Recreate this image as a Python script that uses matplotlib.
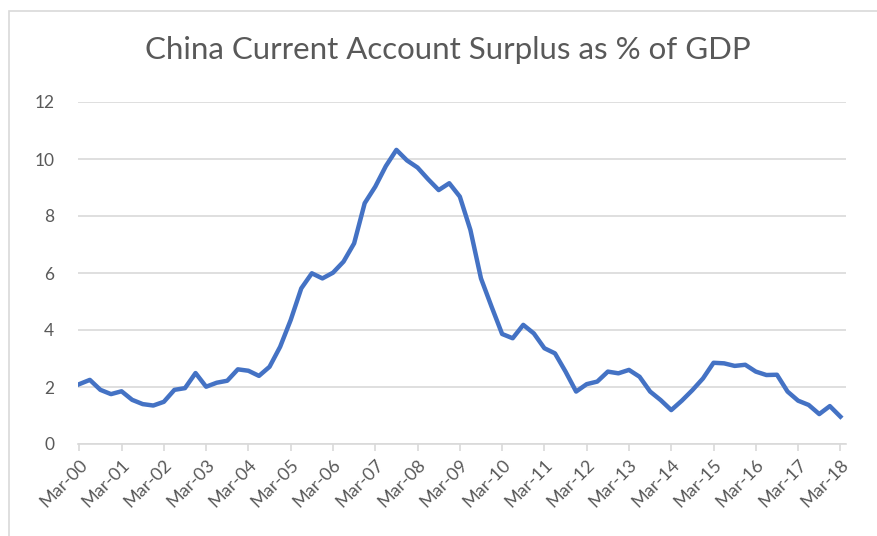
import matplotlib.pyplot as plt
from matplotlib.patches import Rectangle

# quarterly current account surplus, % of GDP, Mar-00 .. Mar-18
surplus = [
    2.10, 2.25, 1.90, 1.75, 1.85, 1.55, 1.40, 1.35,
    1.48, 1.90, 1.96, 2.49, 2.01, 2.15, 2.22, 2.62,
    2.57, 2.39, 2.71, 3.41, 4.35, 5.46, 5.99, 5.81,
    6.01, 6.40, 7.04, 8.45, 9.03, 9.75, 10.32, 9.95,
    9.70, 9.29, 8.91, 9.15, 8.68, 7.51, 5.81, 4.82,
    3.86, 3.71, 4.18, 3.88, 3.36, 3.18, 2.54, 1.84,
    2.10, 2.19, 2.54, 2.48, 2.60, 2.36, 1.84, 1.54,
    1.19, 1.52, 1.89, 2.30, 2.85, 2.83, 2.74, 2.78,
    2.54, 2.42, 2.43, 1.84, 1.52, 1.37, 1.05, 1.33,
    0.96,
]
years = ['00', '01', '02', '03', '04', '05', '06', '07', '08', '09',
         '10', '11', '12', '13', '14', '15', '16', '17', '18']
tick_labels = ['Mar-' + y for y in years]
y_ticks = [0, 2, 4, 6, 8, 10, 12]

GREY = '#595959'
LIGHT = '#d9d9d9'

plt.rcParams['font.family'] = ['Lato', 'DejaVu Sans']

W, H = 877, 536
fig = plt.figure(figsize=(W / 100, H / 100), dpi=100)

# thin chart border like the Excel chart area
fig.patches.append(Rectangle((9 / W, -0.05), 1.0, (H - 11) / H + 0.05,
                             transform=fig.transFigure, fill=False,
                             edgecolor=LIGHT, linewidth=1.2))

ax = fig.add_axes([78 / W, (H - 444) / H, 768 / W, 342 / H])

x = list(range(len(surplus)))
ax.plot(x, surplus, color='#4472C4', linewidth=3.2, solid_joinstyle='round',
        zorder=3)

ax.set_xlim(-0.12, 72.53)
ax.set_ylim(0, 12)

ax.set_yticks(y_ticks)
ax.set_yticklabels([str(v) for v in y_ticks])
ax.set_xticks(list(range(0, len(surplus), 4)))
ax.set_xticklabels(tick_labels, rotation=45, ha='right', va='top',
                   rotation_mode='anchor')

ax.grid(axis='y', color=LIGHT, linewidth=1.2, zorder=0)
for side in ('top', 'right', 'left'):
    ax.spines[side].set_visible(False)
ax.spines['bottom'].set_color(LIGHT)
ax.spines['bottom'].set_linewidth(1.2)

ax.tick_params(axis='y', length=0, pad=17, labelsize=12.5, labelcolor=GREY)
ax.tick_params(axis='x', length=5, width=1.2, color=LIGHT, pad=4,
               labelsize=13, labelcolor=GREY)

fig.text(0.511, (H - 50) / H, 'China Current Account Surplus as % of GDP',
         ha='center', va='center', fontsize=22.5, color=GREY)

fig.savefig('out.png', dpi=100)
